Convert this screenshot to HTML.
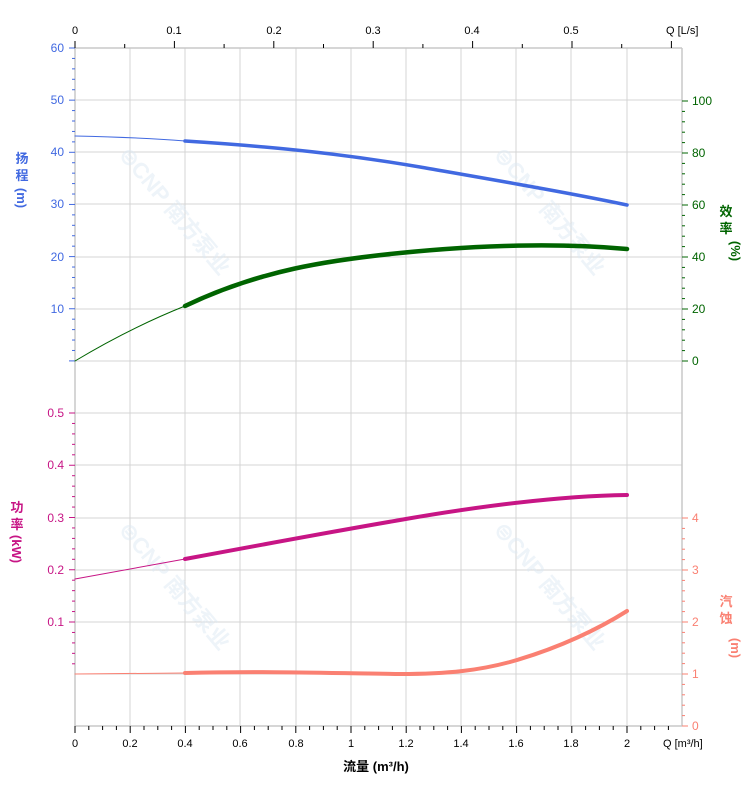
<!DOCTYPE html>
<html><head><meta charset="utf-8"><style>
html,body{margin:0;padding:0;background:#fff;}
svg{display:block;font-family:"Liberation Sans","Noto Sans CJK SC",sans-serif;}
</style></head><body>
<svg width="752" height="797" viewBox="0 0 752 797" xmlns="http://www.w3.org/2000/svg">
<rect width="752" height="797" fill="#fff"/>
<g stroke="#d4d4d4" stroke-width="1">
<line x1="130" y1="48" x2="130" y2="726"/><line x1="185" y1="48" x2="185" y2="726"/>
<line x1="240" y1="48" x2="240" y2="726"/><line x1="296" y1="48" x2="296" y2="726"/>
<line x1="351" y1="48" x2="351" y2="726"/><line x1="406" y1="48" x2="406" y2="726"/>
<line x1="461" y1="48" x2="461" y2="726"/><line x1="516" y1="48" x2="516" y2="726"/>
<line x1="571" y1="48" x2="571" y2="726"/><line x1="627" y1="48" x2="627" y2="726"/>
<line x1="75" y1="48" x2="682" y2="48"/><line x1="75" y1="100" x2="682" y2="100"/>
<line x1="75" y1="152" x2="682" y2="152"/><line x1="75" y1="204" x2="682" y2="204"/>
<line x1="75" y1="257" x2="682" y2="257"/><line x1="75" y1="309" x2="682" y2="309"/>
<line x1="75" y1="361" x2="682" y2="361"/><line x1="75" y1="413" x2="682" y2="413"/>
<line x1="75" y1="465" x2="682" y2="465"/><line x1="75" y1="518" x2="682" y2="518"/>
<line x1="75" y1="570" x2="682" y2="570"/><line x1="75" y1="622" x2="682" y2="622"/>
<line x1="75" y1="674" x2="682" y2="674"/>
</g>
<line x1="75" y1="48" x2="75" y2="726" stroke="#c8c8c8" stroke-width="1.5"/>
<line x1="682" y1="48" x2="682" y2="726" stroke="#c8c8c8" stroke-width="1.5"/>
<line x1="75" y1="726" x2="682" y2="726" stroke="#c8c8c8" stroke-width="1.5"/>
<line x1="75" y1="48" x2="682" y2="48" stroke="#c8c8c8" stroke-width="1.5"/>
<g fill="#dce8f3" opacity="0.5" font-size="22" font-weight="bold">
<text transform="translate(118,155) rotate(50)">⊜CNP 南方泵业</text>
<text transform="translate(493,155) rotate(50)">⊜CNP 南方泵业</text>
<text transform="translate(118,530) rotate(50)">⊜CNP 南方泵业</text>
<text transform="translate(493,530) rotate(50)">⊜CNP 南方泵业</text>
</g>
<g id="ticks" stroke-width="1"></g>
<g fill="none" stroke-linecap="round">
<path d="M75,136 C120,137 160,139 185,141" stroke="#4169e1" stroke-width="1"/>
<path d="M185,141 C280,147 350,155 420,167 C500,181 570,193 627,205" stroke="#4169e1" stroke-width="3.5"/>
<path d="M75,361 C110,340 150,320 185,306" stroke="#006400" stroke-width="1"/>
<path d="M185,306 C260,270 330,260 400,253 C480,245 560,243 627,249" stroke="#006400" stroke-width="4.5"/>
<path d="M75,579 L185,559" stroke="#c71585" stroke-width="1"/>
<path d="M185,559 C260,545 330,532 400,520 C480,506 560,496 627,495" stroke="#c71585" stroke-width="4"/>
<path d="M75,674 L185,673" stroke="#fa8072" stroke-width="1"/>
<path d="M185,673 C260,671 330,673 400,674 C450,674 480,670 510,662 C560,648 600,628 627,611" stroke="#fa8072" stroke-width="4"/>
</g>
<g font-size="12" fill="#4169e1" text-anchor="end">
<text x="64" y="52">60</text><text x="64" y="104">50</text><text x="64" y="156">40</text>
<text x="64" y="208">30</text><text x="64" y="261">20</text><text x="64" y="313">10</text>
</g>
<g font-size="12" fill="#c71585" text-anchor="end">
<text x="64" y="417">0.5</text><text x="64" y="469">0.4</text><text x="64" y="522">0.3</text>
<text x="64" y="574">0.2</text><text x="64" y="626">0.1</text>
</g>
<g font-size="12" fill="#006400">
<text x="692" y="105">100</text><text x="692" y="157">80</text><text x="692" y="209">60</text>
<text x="692" y="261">40</text><text x="692" y="313">20</text><text x="692" y="365">0</text>
</g>
<g font-size="12" fill="#fa8072">
<text x="692" y="522">4</text><text x="692" y="574">3</text><text x="692" y="626">2</text>
<text x="692" y="678">1</text><text x="692" y="730">0</text>
</g>
<g font-size="11" fill="#000" text-anchor="middle">
<text x="75" y="747">0</text><text x="130" y="747">0.2</text><text x="185" y="747">0.4</text>
<text x="240" y="747">0.6</text><text x="296" y="747">0.8</text><text x="351" y="747">1</text>
<text x="406" y="747">1.2</text><text x="461" y="747">1.4</text><text x="516" y="747">1.6</text>
<text x="571" y="747">1.8</text><text x="627" y="747">2</text>
<text x="75" y="34">0</text><text x="174" y="34">0.1</text><text x="274" y="34">0.2</text>
<text x="373" y="34">0.3</text><text x="472" y="34">0.4</text><text x="571" y="34">0.5</text>
</g>
<text x="663" y="747" font-size="11" fill="#000">Q [m³/h]</text>
<text x="666" y="34" font-size="11" fill="#000">Q [L/s]</text>
<text x="376" y="771" font-size="13" font-weight="bold" fill="#000" text-anchor="middle">流量 (m³/h)</text>
<g font-size="13" font-weight="bold" fill="#4169e1" text-anchor="middle">
<text x="22" y="163">扬</text><text x="22" y="180">程</text>
<text transform="translate(17,198) rotate(90)" text-anchor="middle">(m)</text>
</g>
<g font-size="13" font-weight="bold" fill="#c71585" text-anchor="middle">
<text x="17" y="512">功</text><text x="17" y="529">率</text>
<text transform="translate(12,549) rotate(90)" text-anchor="middle">(kW)</text>
</g>
<g font-size="13" font-weight="bold" fill="#006400" text-anchor="middle">
<text x="726" y="216">效</text><text x="726" y="233">率</text>
<text transform="translate(731,251) rotate(90)" text-anchor="middle">(%)</text>
</g>
<g font-size="13" font-weight="bold" fill="#fa8072" text-anchor="middle">
<text x="726" y="606">汽</text><text x="726" y="623">蚀</text>
<text transform="translate(731,648) rotate(90)" text-anchor="middle">(m)</text>
</g>
<script>
var g=document.getElementById('ticks'),ns='http://www.w3.org/2000/svg';
function L(x1,y1,x2,y2,c){var l=document.createElementNS(ns,'line');l.setAttribute('x1',x1);l.setAttribute('y1',y1);l.setAttribute('x2',x2);l.setAttribute('y2',y2);l.setAttribute('stroke',c);g.appendChild(l);}
var i,y,x;
for(i=0;i<=30;i++){y=48+i*10.43;L(i%5==0?69:72,y,75,y,'#4169e1');}
for(i=0;i<=25;i++){y=413+i*10.45;if(y>674)break;L(i%5==0?69:72,y,75,y,'#c71585');}
for(i=0;i<=25;i++){y=101+i*10.4;L(682,y,i%5==0?688:685,y,'#006400');}
for(i=0;i<=20;i++){y=518+i*10.4;L(682,y,i%5==0?688:685,y,'#fa8072');}
for(i=0;i<=44;i++){x=75+i*13.8;if(x>682)break;L(x,726,x,i%4==0?733:730,'#000');}
for(i=0;i<=12;i++){x=75+i*49.7;if(x>682)break;L(x,48,x,i%2==0?41:44,'#000');}
</script>
</svg>
</body></html>
